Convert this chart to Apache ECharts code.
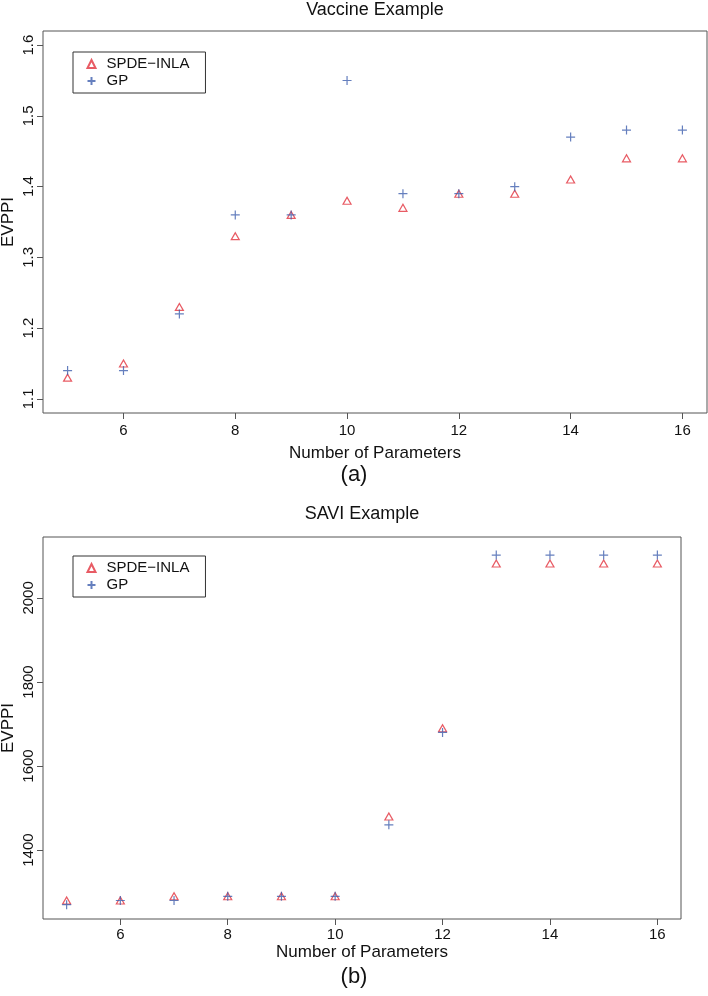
<!DOCTYPE html>
<html><head><meta charset="utf-8">
<script src="https://cdn.jsdelivr.net/npm/echarts@6/dist/echarts.min.js"></script>
<style>html,body{margin:0;padding:0;background:#fff}#c{width:708px;height:996px}</style>
</head><body><div id="c"></div>
<script>
// ---- data ----
const params = [5, 6, 7, 8, 9, 10, 11, 12, 13, 14, 15, 16];
const vaccineSPDE = [1.13, 1.15, 1.23, 1.33, 1.36, 1.38, 1.37, 1.39, 1.39, 1.41, 1.44, 1.44];
const vaccineGP   = [1.14, 1.14, 1.22, 1.36, 1.36, 1.55, 1.39, 1.39, 1.40, 1.47, 1.48, 1.48];
const saviSPDE = [1280, 1280, 1290, 1290, 1290, 1290, 1480, 1690, 2082, 2082, 2082, 2082];
const saviGP   = [1270, 1280, 1280, 1290, 1290, 1290, 1460, 1680, 2102, 2102, 2102, 2102];
const xTicks = [6, 8, 10, 12, 14, 16];
const vaccineYTicks = [1.1, 1.2, 1.3, 1.4, 1.5, 1.6];
const saviYTicks = [1400, 1600, 1800, 2000];
const seriesNames = ['SPDE\u2212INLA', 'GP'];

// ---- styles ----
const FONT = 'Liberation Sans, Arial, Helvetica, sans-serif';
const RED = '#e2323d';
const BLUE = '#3f5fae';
const AXC = '#555';
const PLUS = 'path://M0,5L10,5M5,0L5,10';

function pairs(xs, ys) { return xs.map((x, i) => [x, ys[i]]); }
function plain(v) { return String(Math.round(v * 1000) / 1000); }

function xAxisFor(gi, margin, gap) {
  return {
    type: 'value', gridIndex: gi, min: 4.56, max: 16.44,
    splitLine: { show: false }, axisLine: { show: false },
    axisTick: { show: true, length: 6, customValues: xTicks, lineStyle: { color: AXC } },
    axisLabel: { customValues: xTicks, margin: margin, fontSize: 15, color: '#111', fontFamily: FONT, formatter: plain },
    name: 'Number of Parameters', nameLocation: 'middle', nameGap: gap, nameMoveOverlap: false,
    nameTextStyle: { fontSize: 17, color: '#111', fontFamily: FONT }
  };
}
function yAxisFor(gi, min, max, ticks) {
  return {
    type: 'value', gridIndex: gi, min: min, max: max,
    splitLine: { show: false }, axisLine: { show: false },
    axisTick: { show: true, length: 6, customValues: ticks, lineStyle: { color: AXC } },
    axisLabel: { customValues: ticks, rotate: 90, margin: 7, fontSize: 15, color: '#111', fontFamily: FONT, formatter: plain },
    name: 'EVPPI', nameLocation: 'middle', nameGap: 26, nameMoveOverlap: false,
    nameTextStyle: { fontSize: 17, color: '#111', fontFamily: FONT }
  };
}
function tri(gi, data) {
  return {
    type: 'scatter', name: seriesNames[0], xAxisIndex: gi, yAxisIndex: gi, data: data,
    symbol: 'triangle', symbolSize: [8, 7],
    itemStyle: { color: 'none', borderColor: RED, borderWidth: 1.2 }, z: 2
  };
}
function plus(gi, data) {
  return {
    type: 'scatter', name: seriesNames[1], xAxisIndex: gi, yAxisIndex: gi, data: data,
    symbol: PLUS, symbolSize: 9,
    itemStyle: { color: 'none', borderColor: BLUE, borderWidth: 1.2 }, z: 3
  };
}
function legendAt(left, top) {
  return {
    orient: 'vertical', left: left, top: top, data: seriesNames, selectedMode: false,
    itemWidth: 8, itemHeight: 8, itemGap: 1, padding: [4, 16, 4, 12],
    borderColor: '#333', borderWidth: 1,
    textStyle: { fontSize: 15, lineHeight: 16, color: '#111', fontFamily: FONT, padding: [0, 0, 0, 6] }
  };
}
function label(text, x, y, size) {
  return { type: 'text', x: x, y: y, silent: true,
    style: { text: text, align: 'center', verticalAlign: 'middle', fontSize: size, fontFamily: FONT, fill: '#111' } };
}

const chart = echarts.init(document.getElementById('c'), null, { renderer: 'canvas' });
chart.setOption({
  animation: false,
  backgroundColor: '#fff',
  grid: [
    { left: 43, top: 31, width: 664, height: 382, show: true, borderColor: AXC, borderWidth: 1,
      containLabel: false, outerBoundsMode: 'none' },
    { left: 43, top: 537, width: 638, height: 382, show: true, borderColor: AXC, borderWidth: 1,
      containLabel: false, outerBoundsMode: 'none' }
  ],
  xAxis: [xAxisFor(0, 10, 32), xAxisFor(1, 8, 25)],
  yAxis: [yAxisFor(0, 1.08, 1.62, vaccineYTicks), yAxisFor(1, 1236, 2145, saviYTicks)],
  legend: [legendAt(73, 52), legendAt(73, 556)],
  series: [
    tri(0, pairs(params, vaccineSPDE)), plus(0, pairs(params, vaccineGP)),
    tri(1, pairs(params, saviSPDE)), plus(1, pairs(params, saviGP))
  ],
  graphic: [
    label('Vaccine Example', 375, 10, 18),
    label('(a)', 354, 475, 22),
    label('SAVI Example', 362, 514, 18),
    label('(b)', 354, 977, 22)
  ]
});
</script>
</body></html>
